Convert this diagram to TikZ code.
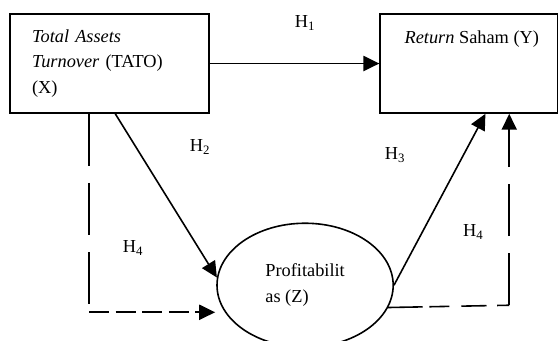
\documentclass[tikz,border=0pt]{standalone}
\usepackage{fontspec}
\setmainfont{Liberation Serif}
\usepackage{tikz}
\usetikzlibrary{arrows.meta,shapes.geometric}

\begin{document}
\begin{tikzpicture}[
        font=\fontsize{13.8}{19.5}\selectfont,
        line width=1.2pt,
        box/.style={draw, inner sep=0pt, minimum height=2.62cm},
        tip/.style={-{Triangle[length=0.42cm,width=0.4cm]}},
        longdash/.style={dash pattern=on 39pt off 13pt},
        shortdash/.style={dash pattern=on 15pt off 5pt}
    ]
        %\draw[gray] (0,0) grid (15,9);
        \useasboundingbox (0,0) rectangle (14.76,9);

        \node[box, inner xsep=0.585cm, text width=4.1cm, align=left] (X) at (2.9,7.32)
            {\textit{Total Assets}\\\textit{Turnover} (TATO)\\(X)};
        \node[box, minimum width=4.69cm,
            label={[anchor=base west, xshift=0.53cm, yshift=-0.79cm]north west:\textit{Return} Saham (Y)}] (Y) at (12.4,7.32) {};
        \node[draw, ellipse, minimum width=4.66cm, minimum height=3.28cm, align=left] (Z) at (8.07,1.455)
            {Profitabilit\\as (Z)};

        \coordinate (cl) at (2.355,0.74);
        \coordinate (al) at (5.69,0.74);
        \coordinate (cr) at (13.47,0.926);

        \draw[tip] (X.east) -- (Y.west);
        \draw[tip] ([xshift=0.15cm]X.south) -- (Z.175);
        \draw[tip] (Z.east) -- ([xshift=0.44cm]Y.south);

        % dashed paths
        \draw[longdash] (cl |- X.south) -- (cl);
        \draw[shortdash, tip] (cl) -- (al);
        \draw[dash pattern=on 26pt off 5pt on 15pt off 9pt on 19pt off 8pt on 10pt] (Z.-15) -- (cr);
        \draw[longdash, tip] (cr) -- (cr |- Y.south);

        \node (h1) at (8.07,8.39) {H\textsubscript{1}};
        \node (h2) at (5.29,5.11) {H\textsubscript{2}};
        \node (h3) at (10.45,4.90) {H\textsubscript{3}};
        \node (h4l) at (3.52,2.43) {H\textsubscript{4}};
        \node (h4r) at (12.52,2.86) {H\textsubscript{4}};
    \end{tikzpicture}
\end{document}
